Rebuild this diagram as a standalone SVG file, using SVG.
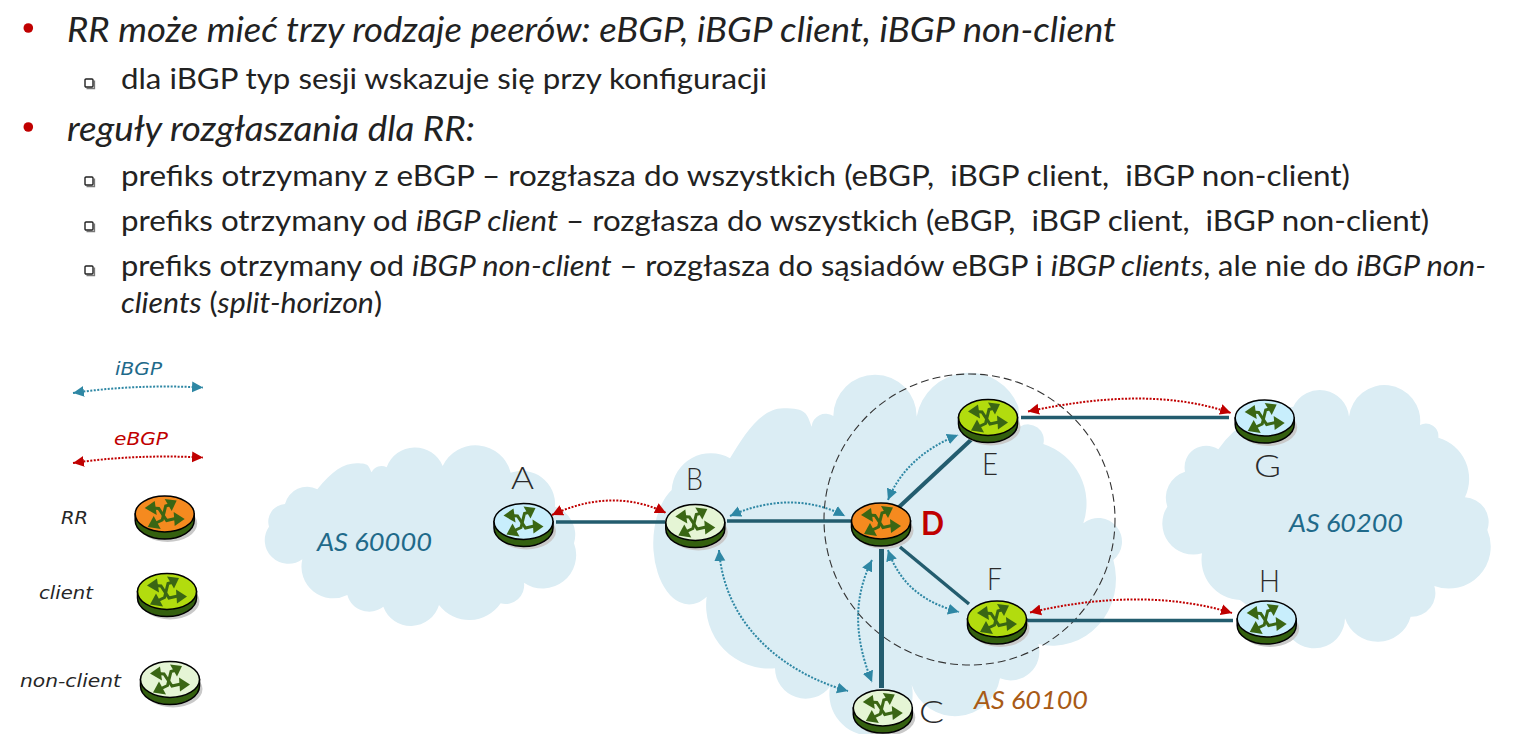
<svg xmlns="http://www.w3.org/2000/svg" width="1525" height="734" viewBox="0 0 1525 734">
<style>
.t{font-family:Lato,"Noto Sans",sans-serif;fill:#222}
.h{font-size:34px;font-style:italic}
.s{font-size:29.5px}
.i{font-style:italic}
.n{font-family:Lato,"Noto Sans",sans-serif;font-size:32px;font-weight:300;fill:#2b2b2b}
.as{font-family:Lato,"Noto Sans",sans-serif;font-size:26px;font-style:italic}
.lg{font-family:"DejaVu Sans",sans-serif;font-size:18.5px;font-style:italic;fill:#262626}
.cloud{fill:#dbedf4}
.link{fill:none;stroke:#235c6e;stroke-width:3.5}
.ib{fill:none;stroke:#2e87a4;stroke-width:2;stroke-dasharray:2 1.5;marker-start:url(#ah);marker-end:url(#ah)}
.eb{fill:none;stroke:#c00000;stroke-width:2;stroke-dasharray:2 1.5;marker-start:url(#ar);marker-end:url(#ar)}
.rr{fill:#f58a1f}.cl{fill:#b2dc0e}.nc{fill:#e5f5d5}.ex{fill:#c8eefc}
.bul{fill:#c00000}
.sq{fill:#fff;stroke:#222;stroke-width:1.4}
.sqs{fill:none;stroke:#777;stroke-width:1.3}
</style>
<defs>
<marker id="ah" markerUnits="userSpaceOnUse" markerWidth="12" markerHeight="12" refX="11" refY="6" orient="auto-start-reverse"><path d="M0,0.5 L11,6 L0,11.5 Z" fill="#2e87a4"/></marker>
<marker id="ar" markerUnits="userSpaceOnUse" markerWidth="12" markerHeight="12" refX="11" refY="6" orient="auto-start-reverse"><path d="M0,0.5 L11,6 L0,11.5 Z" fill="#c00000"/></marker>
<g id="router">
<ellipse cx="3" cy="9.5" rx="29.5" ry="18.5" fill="#c9c9c9"/>
<path d="M-29.5,0 V6.5 A29.5,18.5 0 0 0 29.5,6.5 V0 Z" fill="#34600f" stroke="#000" stroke-width="1.5"/>
<ellipse rx="29.5" ry="18" stroke="#000" stroke-width="1.5"/>
<g fill="none" stroke="#3a6614" stroke-width="3">
<path d="M-13,-6 L-6,-5.5 L2,6.5 L13,4"/>
<path d="M8,-10 L1,-8 L-2.5,6 L-11,10"/>
</g>
<g fill="#3a6614">
<path d="M-20,-6 L-10,-13 L-8,1 Z"/>
<path d="M20,5 L9,-2 L10,12 Z"/>
<path d="M12,-13.5 L0,-15 L7,-3 Z"/>
<path d="M-17,13 L-11,2 L-4,15 Z"/>
</g>
</g>
<g id="sqb"><path class="sqs" d="M1.5,9.5 H9.5 V1.5"/><rect class="sq" width="8" height="8" rx="1"/></g>
</defs>
<rect width="1525" height="734" fill="#fff"/>

<g id="text">
<circle class="bul" cx="28.3" cy="28" r="4.8"/>
<circle class="bul" cx="28.3" cy="127" r="4.8"/>
<use href="#sqb" x="85" y="79"/>
<use href="#sqb" x="85" y="177"/>
<use href="#sqb" x="85" y="222"/>
<use href="#sqb" x="85" y="266"/>
<text class="t h" x="67" y="42" textLength="1049" lengthAdjust="spacingAndGlyphs">RR może mieć trzy rodzaje peerów: eBGP, iBGP client, iBGP non-client</text>
<text class="t s" x="121" y="89" textLength="646" lengthAdjust="spacingAndGlyphs">dla iBGP typ sesji wskazuje się przy konfiguracji</text>
<text class="t h" x="67" y="141" textLength="408" lengthAdjust="spacingAndGlyphs">reguły rozgłaszania dla RR:</text>
<text class="t s" x="121" y="186" textLength="1229" lengthAdjust="spacingAndGlyphs" xml:space="preserve">prefiks otrzymany z eBGP – rozgłasza do wszystkich (eBGP,  iBGP client,  iBGP non-client)</text>
<text class="t s" x="121" y="231" textLength="1308" lengthAdjust="spacingAndGlyphs" xml:space="preserve">prefiks otrzymany od <tspan class="i">iBGP client</tspan> – rozgłasza do wszystkich (eBGP,  iBGP client,  iBGP non-client)</text>
<text class="t s" x="121" y="276" textLength="1365" lengthAdjust="spacingAndGlyphs">prefiks otrzymany od <tspan class="i">iBGP non-client</tspan> – rozgłasza do sąsiadów eBGP i <tspan class="i">iBGP clients</tspan>, ale nie do <tspan class="i">iBGP non-</tspan></text>
<text class="t s" x="121" y="313" textLength="261" lengthAdjust="spacingAndGlyphs"><tspan class="i">clients</tspan> (<tspan class="i">split-horizon</tspan>)</text>
</g>

<g id="clouds">
<path id="cloud-60000" class="cloud" transform="translate(260,440) scale(.33333)" d="M75,192 A68,68 0 0 1 172,148 C215,95 250,70 290,70 S325,80 335,97 A32,32 0 0 1 380,82 A90,90 0 0 1 548,78 A109,109 0 0 1 752,98 A100,100 0 0 1 885,200 A89,89 0 0 1 942,310 A100,100 0 0 1 792,428 A56,56 0 0 1 722,490 A114,114 0 0 1 537,495 A88,88 0 0 1 370,500 A68,68 0 0 1 262,465 A95,95 0 0 1 127,358 A71,71 0 0 1 27,260 A53,53 0 0 1 75,192 Z"/>
<path id="cloud-60100" class="cloud" transform="translate(640,370) scale(.33333)" d="M95,360 A117,117 0 0 1 270,265 C310,200 360,115 430,115 S500,130 515,170 A42,42 0 0 1 580,138 A125,125 0 0 1 830,140 A159,159 0 0 1 1135,110 L1140,170 A47,47 0 0 1 1210,222 A188,188 0 0 1 1330,460 A70,70 0 0 1 1420,570 A190,200 0 0 1 1195,822 A86,86 0 0 1 1080,925 A137,137 0 0 1 815,945 A125,125 0 1 1 570,950 A92,92 0 0 1 405,895 A190,190 0 0 1 200,680 A100,170 0 0 1 95,360 Z"/>
<path id="cloud-60200" class="cloud" transform="translate(1000,370) scale(.33333)" d="M555,305 A65,65 0 0 1 655,238 A295,295 0 0 1 880,110 A88,88 0 0 1 1047,140 A107,107 0 0 1 1260,165 A38,38 0 0 1 1315,203 A129,129 0 0 1 1395,382 A74,74 0 0 1 1462,480 A126,126 0 0 1 1303,648 A71,71 0 0 1 1232,740 A103,103 0 0 1 1035,745 A92,92 0 0 1 880,810 L720,690 A121,121 0 0 1 606,550 A93,93 0 0 1 502,410 A82,82 0 0 1 555,305 Z"/>
<circle id="rr-cluster" cx="969.5" cy="519.5" r="145.5" fill="none" stroke="#333" stroke-width="1.1" stroke-dasharray="8 4"/>
</g>

<g id="connectors">
<path class="link" d="M556,522 H665"/>
<path class="link" d="M727,521 H852"/>
<path class="link" d="M898,508 L973,438" style="stroke-width:4"/>
<path class="link" d="M900,547 L969,604"/>
<path class="link" d="M881.5,549 V688" style="stroke-width:5"/>
<path class="link" d="M1021,417.5 H1229"/>
<path class="link" d="M1027,620.5 H1233"/>
<path class="ib" d="M73,393 Q135,384 203,387.5"/>
<path class="eb" d="M73,463 Q135,454 203,457.5"/>
<path class="eb" d="M552,515 C590,497 630,495 666,513"/>
<path class="ib" d="M730,516 C770,498 810,498 845,516"/>
<path class="ib" d="M888,500 C900,470 925,448 958,435"/>
<path class="ib" d="M719,550 C725,630 790,675 848,691"/>
<path class="ib" d="M872,560 C852,600 855,640 872,682"/>
<path class="ib" d="M888,550 C900,585 925,603 959,612"/>
<path class="eb" d="M1028,411.5 C1100,396 1170,392 1231,413"/>
<path class="eb" d="M1030,612.5 C1100,596 1170,594 1232,613"/>
</g>

<g id="node-A"><use href="#router" class="ex" x="523.5" y="521.5"/><text class="n" x="511" y="489" textLength="23" lengthAdjust="spacingAndGlyphs">A</text></g>
<g id="node-B"><use href="#router" class="nc" x="695.3" y="522.5"/><text class="n" x="686" y="490" textLength="17" lengthAdjust="spacingAndGlyphs">B</text></g>
<g id="node-D"><use href="#router" class="rr" x="881" y="521"/><text x="921" y="535" font-family="Lato,sans-serif" font-size="32" font-weight="700" fill="#c00000" textLength="23" lengthAdjust="spacingAndGlyphs">D</text></g>
<g id="node-E"><use href="#router" class="cl" x="988" y="417.5"/><text class="n" x="982" y="475" textLength="16" lengthAdjust="spacingAndGlyphs">E</text></g>
<g id="node-F"><use href="#router" class="cl" x="997" y="619"/><text class="n" x="987" y="590" textLength="15" lengthAdjust="spacingAndGlyphs">F</text></g>
<g id="node-C"><use href="#router" class="nc" x="882.8" y="708"/><text class="n" x="919" y="723" textLength="25" lengthAdjust="spacingAndGlyphs">C</text></g>
<g id="node-G"><use href="#router" class="ex" x="1264.7" y="418"/><text class="n" x="1254" y="477" textLength="27" lengthAdjust="spacingAndGlyphs">G</text></g>
<g id="node-H"><use href="#router" class="ex" x="1266.7" y="619"/><text class="n" x="1259" y="592" textLength="21" lengthAdjust="spacingAndGlyphs">H</text></g>

<g id="as-labels">
<text class="as" x="317" y="551" fill="#1f6a8a" textLength="115" lengthAdjust="spacingAndGlyphs">AS 60000</text>
<text class="as" x="974" y="709" fill="#a85a16" textLength="114" lengthAdjust="spacingAndGlyphs">AS 60100</text>
<text class="as" x="1289" y="532" fill="#1f6a8a" textLength="114" lengthAdjust="spacingAndGlyphs">AS 60200</text>
</g>

<g id="legend">
<text class="lg" x="115" y="375" style="fill:#1f6a8a" textLength="47" lengthAdjust="spacingAndGlyphs">iBGP</text>
<text class="lg" x="114" y="445" style="fill:#c00000" textLength="54" lengthAdjust="spacingAndGlyphs">eBGP</text>
<g id="legend-rr"><text class="lg" x="61" y="524" textLength="27" lengthAdjust="spacingAndGlyphs">RR</text><use href="#router" class="rr" x="164.7" y="514"/></g>
<g id="legend-client"><text class="lg" x="39" y="599" textLength="54" lengthAdjust="spacingAndGlyphs">client</text><use href="#router" class="cl" x="167" y="591.5"/></g>
<g id="legend-non-client"><text class="lg" x="20" y="687" textLength="101" lengthAdjust="spacingAndGlyphs">non-client</text><use href="#router" class="nc" x="170" y="679.5"/></g>
</g>
</svg>
